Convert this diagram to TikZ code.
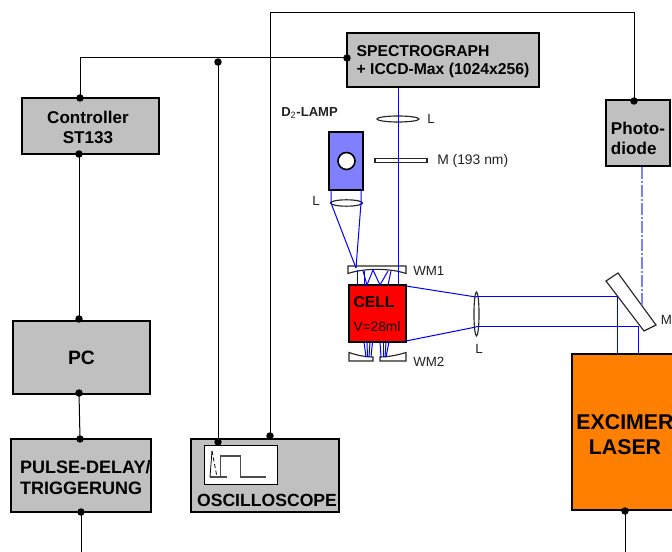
\documentclass[tikz,border=0pt]{standalone}
\usepackage{fontspec}
\setmainfont{Liberation Sans}
\usetikzlibrary{shapes.geometric}
\definecolor{boxgrey}{HTML}{C0C0C0}
\definecolor{lampblue}{HTML}{8080FF}
\definecolor{laserorange}{HTML}{FF8000}
\definecolor{txtgrey}{HTML}{222222}
\tikzset{
  box/.style={draw=black,line width=1.5pt,fill=boxgrey,rectangle,inner sep=0pt,align=center,font=\bfseries},
  dot/.style={circle,fill=black,inner sep=0pt,minimum size=5.6pt},
  wire/.style={draw=black,line width=.75pt},
  ray/.style={draw=blue,line width=.75pt},
  faintray/.style={draw=lampblue,line width=1pt},
  optic/.style={draw=black!85,line width=.85pt,fill=white},
  lab/.style={inner sep=0pt,text=txtgrey,font=\fontsize{10}{12}\selectfont},
}
\begin{document}
\begin{tikzpicture}[x=.75pt,y=-.75pt]
\useasboundingbox (0,0) rectangle (672,552);
\clip (0,0) rectangle (672,552);
% boxes
\node[box,minimum width=144pt,minimum height=40.5pt,align=left,font=\bfseries\fontsize{11.8}{13.5}\selectfont] (spec) at (443,60) {\rule{0pt}{10pt}SPECTROGRAPH\\+ ICCD-Max (1024x256)};
\node[box,minimum width=102.75pt,minimum height=42pt,font=\bfseries\fontsize{12.8}{15}\selectfont] (ctrl) at (90.5,126) {\rule{0pt}{11pt}Controller\hspace*{3.75pt}\\ST133\hspace*{3.75pt}};
\node[box,minimum width=48pt,minimum height=49.5pt,align=left,font=\bfseries\fontsize{12.8}{15}\selectfont] (photo) at (638,133) {\rule{0pt}{17.7pt}Photo-\\diode};
\node[box,minimum width=102.75pt,minimum height=54.75pt,font=\bfseries\fontsize{14.5}{17}\selectfont] (pc) at (81.5,357.5) {PC};
\node[box,minimum width=105pt,minimum height=54.75pt,align=left,font=\bfseries\fontsize{13.5}{15.7}\selectfont] (pulse) at (81,476) {\rule{0pt}{12pt}\hspace*{6.5pt}PULSE-DELAY/\\\hspace*{6.5pt}TRIGGERUNG};
\node[box,minimum width=111pt,minimum height=54.75pt] (scope) at (265,475.5) {};
\node[inner sep=0pt,font=\bfseries\fontsize{13.2}{16}\selectfont] (scopetext) at (267,500) {OSCILLOSCOPE};
\node[box,fill=laserorange,minimum width=79.5pt,minimum height=117pt,font=\bfseries\fontsize{16}{18.7}\selectfont] (laser) at (625,432) {\rule{0pt}{14.5pt}EXCIMER\\LASER};
\node[draw=black,line width=.75pt,fill=white,minimum width=54.75pt,minimum height=29.25pt,inner sep=0pt] (screen) at (240.5,465.5) {};
% cell and lamp
\node[draw=black,line width=1.5pt,fill=red,minimum width=42.75pt,minimum height=42.75pt,inner sep=0pt,align=left] (cell) at (377,314) {\fontsize{11.8}{14}\selectfont\bfseries CELL\\[6pt]\fontsize{10.3}{13}\selectfont V=28ml};
\node[draw=black,line width=1.5pt,fill=lampblue,minimum width=25.5pt,minimum height=43.5pt,inner sep=0pt] (lamp) at (346,161) {};
\node[circle,draw=black,line width=1.2pt,fill=white,minimum size=12.75pt,inner sep=0pt] (bulb) at (346.5,161) {};
% wires
\node[dot] (dspec) at (347,58) {};
\node[dot] (dctrlt) at (80,98) {};
\node[dot] (dctrlb) at (79,154) {};
\node[dot] (dpct) at (79,319) {};
\node[dot] (dpcb) at (79,393) {};
\node[dot] (dpulset) at (80,439) {};
\node[dot] (dpulseb) at (81,512) {};
\node[dot] (dbranch) at (218,62) {};
\node[dot] (dscopea) at (218,442) {};
\node[dot] (dscopeb) at (270,436) {};
\node[dot] (dphoto) at (634,101) {};
\node[dot] (dlaser) at (625,511) {};
\coordinate (corner1) at (80,58);
\coordinate (corner2) at (270,13);
\coordinate (corner3) at (634,13);
\coordinate (endpulse) at (81,552);
\coordinate (endlaser) at (625,552);
\draw[wire] (dspec.center) -- (corner1) -- (dctrlt.center);
\draw[wire] (dctrlb.center) -- (dpct.center);
\draw[wire] (dpcb.center) -- (dpulset.center);
\draw[wire] (dpulseb.center) -- (endpulse);
\draw[wire] (dbranch.center) -- (dscopea.center);
\draw[wire] (dscopeb.center) -- (corner2) -- (corner3) -- (dphoto.center);
\draw[wire] (dlaser.center) -- (endlaser);
% optics
\node[ellipse,draw=black!85,line width=.85pt,minimum width=31.5pt,minimum height=4.5pt,inner sep=0pt] (lens1) at (398,119) {};
\node[draw=black!85,line width=.85pt,fill=white,minimum width=39pt,minimum height=3.6pt,inner sep=0pt] (mirror) at (401,160.5) {};
\node[ellipse,draw=black!85,line width=.85pt,minimum width=24pt,minimum height=4.8pt,inner sep=0pt] (lens2) at (346.5,203) {};
\node[ellipse,draw=black!85,line width=.85pt,minimum width=3.8pt,minimum height=33pt,inner sep=0pt] (lens3) at (476.5,314) {};
\draw[optic] (606,281) -- (618,273) -- (656,325) -- (644,331) -- cycle;
\draw[optic] (348,266) -- (406,266) -- (406,273.5) .. controls (390,268) and (364,268) .. (348,273.5) -- cycle;
\draw[optic] (349,352.5) .. controls (356,355) and (365,357) .. (373,357) -- (373,361) -- (349,361) -- cycle;
\draw[optic] (380,357) .. controls (388,357) and (398,355) .. (406,352.5) -- (406,361) -- (380,361) -- cycle;
% rays
\draw[ray] (spec.south -| lens1) -- (lens1 |- cell.north);
\draw[ray] (331,190) -- (331,203) -- (356,268);
\draw[ray] (361,190) -- (361,203) -- (356,268);
\draw[ray] (357,270) -- (357,285);
\draw[ray] (364,271) -- (364,285);
\draw[ray] (363,271) -- (367,285) -- (373,270) -- (380,285) -- (388,271);
\draw[ray] (391,271) -- (388,285);
\foreach \a/\b/\c/\d in {364/342/366/357,367/342/367.5/357,370/342/369/357,372.5/342/371/357,380/342/381/357,383/342/383/357,386/342/385/357,389/342/386/357}
  \draw[ray] (\a,\b) -- (\c,\d);
\draw[ray] (406,286) -- (476,297);
\draw[ray] (406,341) -- (476,327);
\draw[ray] (476,297) -- (617,297) -- (617,354);
\draw[ray] (476,326.5) -- (638.5,326.5) -- (638.5,354);
\draw[faintray,dash pattern=on 9pt off 1.5pt on 1.5pt off 1.5pt] (photo.south -| 642,0) -- (642,305);
% labels
\node[lab,font=\bfseries\fontsize{9.8}{12}\selectfont,anchor=west] (lamplabel) at (281,113) {D\textsubscript{\normalfont 2}-LAMP};
\node[lab,anchor=west] (l1) at (427,119) {L};
\node[lab,font=\fontsize{10.4}{12}\selectfont,anchor=west] (mlabel) at (437,161) {M (193 nm)};
\node[lab,anchor=west] (l2) at (312,201) {L};
\node[lab,anchor=west] (wm1) at (413,271) {WM1};
\node[lab,anchor=west] (wm2) at (413,362) {WM2};
\node[lab,anchor=west] (l3) at (475,349) {L};
\node[lab,anchor=west] (mright) at (660.5,320) {M};
% oscilloscope trace
\draw[draw=black!70,line width=.9pt] (210,477) -- (227,477);
\draw[draw=black!70,line width=.9pt] (220.7,477) -- (220.7,456) -- (240.7,456) -- (240.7,477) -- (266,477);
\draw[draw=black,line width=.6pt] (212,451) -- (210,477);
\draw[draw=black,line width=.6pt,densely dashed] (212,451) -- (217,477);
\end{tikzpicture}
\end{document}
